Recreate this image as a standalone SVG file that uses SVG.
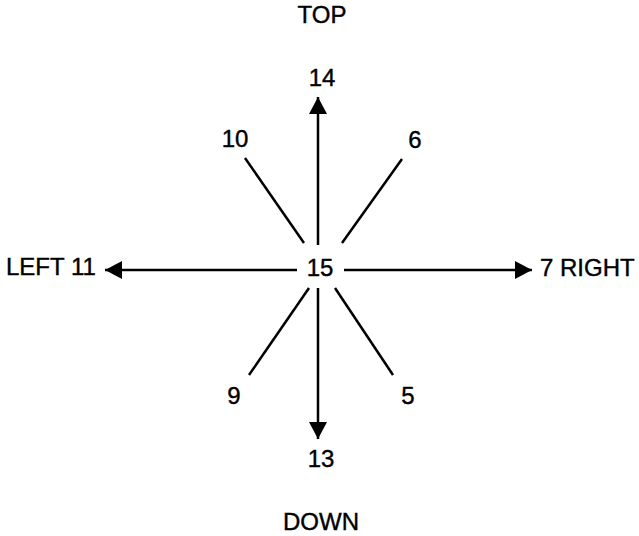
<svg xmlns="http://www.w3.org/2000/svg" width="639" height="536" viewBox="0 0 639 536">
<style>
text{font-family:"Liberation Sans",Arial,sans-serif;font-size:24px;fill:#000;stroke:#000;stroke-width:0.4}
.c{text-anchor:middle}
.ln{stroke:#000;stroke-width:2.5;fill:none}
</style>
<defs>
<marker id="ah" markerUnits="userSpaceOnUse" markerWidth="18" markerHeight="19" refX="17" refY="9.5" orient="auto" viewBox="0 0 18 19">
<path d="M0,0.5 L17,9.5 L0,18.5 z" fill="#000"/>
</marker>
</defs>
<rect width="639" height="536" fill="#fff"/>
<g id="labels">
<text class="c" x="322" y="23">TOP</text>
<text class="c" x="321" y="530">DOWN</text>
</g>
<g id="connectors">
<line class="ln" x1="318" y1="245" x2="318" y2="97" marker-end="url(#ah)"/>
<line class="ln" x1="318" y1="288" x2="318" y2="439" marker-end="url(#ah)"/>
<line class="ln" x1="297" y1="270" x2="105" y2="270" marker-end="url(#ah)"/>
<line class="ln" x1="344" y1="270" x2="532" y2="270" marker-end="url(#ah)"/>
<line class="ln" x1="245" y1="158" x2="304" y2="243"/>
<line class="ln" x1="402" y1="159" x2="342" y2="243"/>
<line class="ln" x1="249" y1="375" x2="309" y2="288"/>
<line class="ln" x1="335" y1="288" x2="393" y2="375"/>
</g>
<g id="n15"><text class="c" x="320" y="276">15</text></g>
<g id="n14"><text class="c" x="322" y="86">14</text></g>
<g id="n13"><text class="c" x="321" y="467">13</text></g>
<g id="n10"><text class="c" x="235" y="147">10</text></g>
<g id="n6"><text class="c" x="415" y="148">6</text></g>
<g id="n9"><text class="c" x="234" y="404">9</text></g>
<g id="n5"><text class="c" x="408" y="404">5</text></g>
<g id="n11"><text x="6" y="275">LEFT 11</text></g>
<g id="n7"><text x="540" y="276">7 RIGHT</text></g>
</svg>
